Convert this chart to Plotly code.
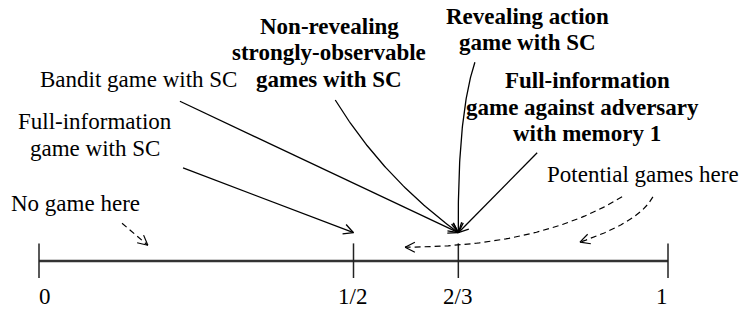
import numpy as np
import plotly.graph_objects as go

# ---------------- data ----------------
TICK_VALUES = [0, 1 / 2, 2 / 3, 1]
TICK_LABELS = ["0", "1/2", "2/3", "1"]

# which point of the line each solid arrow designates
SOLID_TARGETS = [1 / 2, 2 / 3, 2 / 3, 2 / 3, 2 / 3]

# ---------------- layout constants ----------------
W, H = 743, 310
PX = 629.0     # pixels per unit on both axes
X0 = 39.0      # pixel column of value 0
Y0 = 261.0     # pixel row of the number line
FONT = "Times New Roman, Liberation Serif, Times, serif"
FS = 23

TICK_HALF = (0.028, -0.027)
TIP_V = 0.045
LABEL_SHIFT = [0.010, -0.002, -0.002, -0.010]
LABEL_V = -0.0572

# solid arrow tails / bezier controls (data units)
SOLID_STARTS = [(0.229, 0.148), (0.224, 0.254), (0.471, 0.256), (0.693, 0.316), (0.792, 0.172)]
SOLID_CTRLS = [None, None, (0.547, 0.132), (0.665, 0.232), None]

# dashed arrows: start, control, end
DASHED = [
    ((0.132, 0.060), None, (0.173, 0.025)),
    ((0.927, 0.102), (0.797, 0.022), (0.582, 0.022)),
    ((0.976, 0.102), (0.955, 0.062), (0.860, 0.030)),
]

TEXTS = [
    ("No game here", 0.0588, 0.0922, False),
    ("Full-information", 0.0890, 0.2210, False),
    ("game with SC", 0.0890, 0.1781, False),
    ("Bandit game with SC", 0.1574, 0.2878, False),
    ("Non-revealing", 0.4626, 0.3736, True),
    ("strongly-observable", 0.4610, 0.3307, True),
    ("games with SC", 0.4610, 0.2878, True),
    ("Revealing action", 0.7774, 0.3895, True),
    ("game with SC", 0.7774, 0.3466, True),
    ("Full-information", 0.8728, 0.2862, True),
    ("game against adversary", 0.8633, 0.2448, True),
    ("with memory 1", 0.8712, 0.2035, True),
    ("Potential games here", 0.9603, 0.1383, False),
]


def bezier(p0, c, p1, n=80):
    p0, p1 = np.array(p0, float), np.array(p1, float)
    if c is None:
        return np.vstack([p0, p1]), p0
    c = np.array(c, float)
    t = np.linspace(0, 1, n)[:, None]
    pts = (1 - t) ** 2 * p0 + 2 * (1 - t) * t * c + t ** 2 * p1
    return pts, c


def head(tip, prev, length=0.0175, ang=np.deg2rad(27)):
    tip, prev = np.array(tip, float), np.array(prev, float)
    d = prev - tip
    d = d / np.linalg.norm(d)
    xs, ys = [], []
    for a in (ang, -ang):
        r = np.array([d[0] * np.cos(a) - d[1] * np.sin(a), d[0] * np.sin(a) + d[1] * np.cos(a)])
        e = tip + length * r
        xs += [e[0], tip[0], None]
        ys += [e[1], tip[1], None]
    return xs, ys


fig = go.Figure()

# number line
fig.add_trace(go.Scatter(x=[TICK_VALUES[0], TICK_VALUES[-1]], y=[0, 0], mode="lines",
                         line=dict(color="#333333", width=2.6), hoverinfo="skip"))
tx, ty = [], []
for v in TICK_VALUES:
    tx += [v, v, None]
    ty += [TICK_HALF[0], TICK_HALF[1], None]
fig.add_trace(go.Scatter(x=tx, y=ty, mode="lines", line=dict(color="#222222", width=1.5), hoverinfo="skip"))

# solid arrows
for start, ctrl, target in zip(SOLID_STARTS, SOLID_CTRLS, SOLID_TARGETS):
    pts, prev = bezier(start, ctrl, (target, TIP_V))
    fig.add_trace(go.Scatter(x=pts[:, 0], y=pts[:, 1], mode="lines",
                             line=dict(color="black", width=1.3), hoverinfo="skip"))
    hx, hy = head((target, TIP_V), prev)
    fig.add_trace(go.Scatter(x=hx, y=hy, mode="lines", line=dict(color="black", width=1.3), hoverinfo="skip"))

# dashed arrows
for start, ctrl, end in DASHED:
    pts, prev = bezier(start, ctrl, end)
    fig.add_trace(go.Scatter(x=pts[:, 0], y=pts[:, 1], mode="lines",
                             line=dict(color="black", width=1.2, dash="6px,4px"), hoverinfo="skip"))
    hx, hy = head(end, prev)
    fig.add_trace(go.Scatter(x=hx, y=hy, mode="lines", line=dict(color="black", width=1.2), hoverinfo="skip"))

annotations = []
for v, lab, sh in zip(TICK_VALUES, TICK_LABELS, LABEL_SHIFT):
    annotations.append(dict(x=v + sh, y=LABEL_V, text=lab, showarrow=False, xanchor="center", yanchor="middle",
                            font=dict(family=FONT, size=FS, color="black")))
for text, x, y, bold in TEXTS:
    annotations.append(dict(x=x, y=y, text=f"<b>{text}</b>" if bold else text, showarrow=False,
                            xanchor="center", yanchor="middle",
                            font=dict(family=FONT, size=FS, color="black")))

fig.update_layout(
    width=W, height=H, margin=dict(l=0, r=0, t=0, b=0),
    paper_bgcolor="white", plot_bgcolor="white", showlegend=False,
    font=dict(family=FONT),
    xaxis=dict(range=[-X0 / PX, (W - X0) / PX], visible=False, fixedrange=True),
    yaxis=dict(range=[-(H - Y0) / PX, Y0 / PX], visible=False, fixedrange=True),
    annotations=annotations,
)

fig.write_html("out.html", config={"displayModeBar": False},
               post_script="document.body.style.margin='0';document.body.style.overflow='hidden';")
